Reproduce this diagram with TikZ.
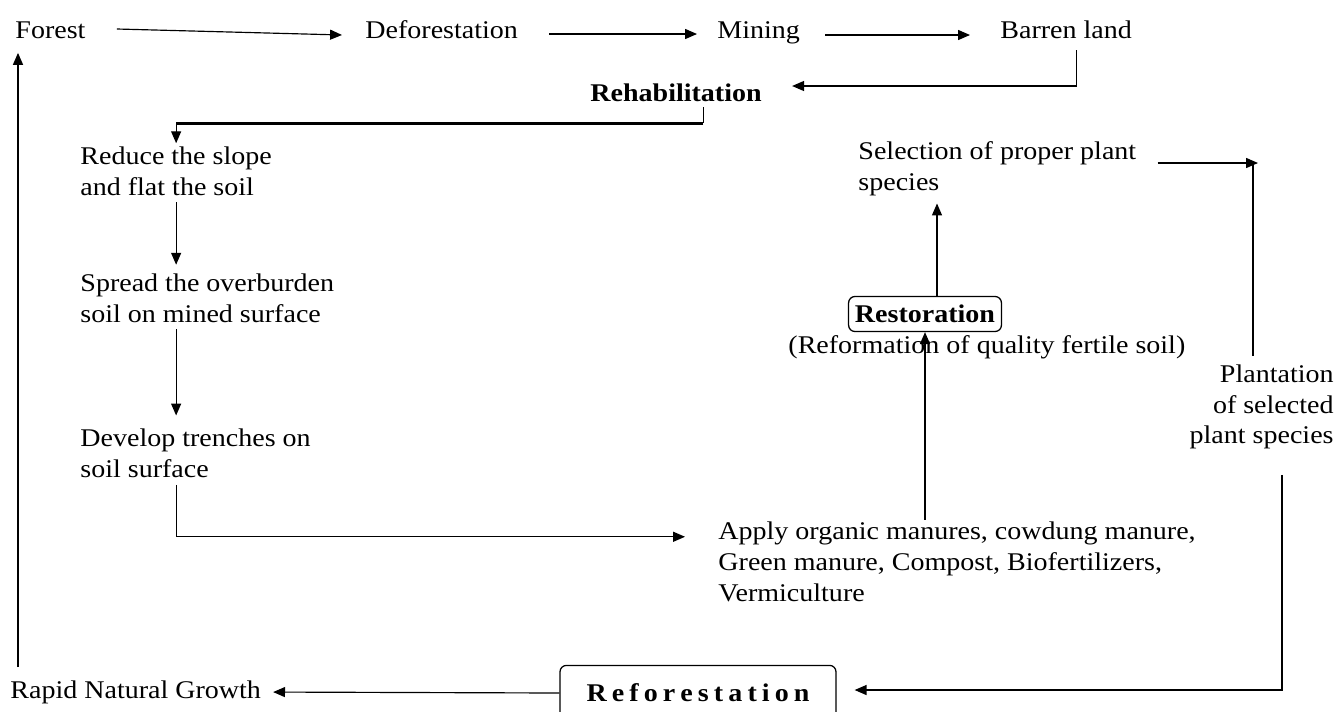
\documentclass[tikz,border=0pt]{standalone}
\usepackage{fontspec}
\setmainfont[FakeStretch=1.1]{Liberation Serif}
\usetikzlibrary{arrows.meta, calc}

\begin{document}
\begin{tikzpicture}[
    x=0.01655cm, y=-0.01655cm,
    >={Triangle[length=5.6pt, width=4.7pt]},
    txt/.style={inner sep=0pt, anchor=west, align=left, font=\fontsize{12}{14.5}\selectfont},
    tag/.style={rectangle, rounded corners=3pt, draw=black, line width=0.6pt, inner sep=0pt, font=\fontsize{12}{14.5}\selectfont\bfseries},
    arrow/.style={->, line width=0.55pt},
    plain/.style={line width=0.55pt}
]
\useasboundingbox (0,0) rectangle (1340,711);

% Top row
\node[txt] (forest) at (15,30) {Forest};
\node[txt] (defor) at (365,30) {Deforestation};
\node[txt] (mining) at (717,33) {Mining};
\node[txt] (barren) at (1000,30) {Barren land};
\node[txt, font=\fontsize{12}{14.5}\selectfont\bfseries] (rehab) at (590,93) {Rehabilitation};

% Left column
\node[txt] (reduce) at (80,171) {Reduce the slope\\and flat the soil};
\node[txt] (spread) at (80,298) {Spread the overburden\\soil on mined surface};
\node[txt] (trench) at (80,453) {Develop trenches on\\soil surface};

% Right part
\node[txt] (manure) at (718,562) {Apply organic manures, cowdung manure,\\Green manure, Compost, Biofertilizers,\\Vermiculture};
\node[tag, minimum width=72pt, minimum height=16.5pt] (resto) at (925,314) {Restoration};
\node[txt] (reform) at (788,347) {(Reformation of quality fertile soil)};
\node[txt] (select) at (858,169) {Selection of proper plant\\species};
\node[txt, anchor=east, align=right] (plant) at (1334,407) {Plantation\\of selected\\plant species};

% Bottom row
\node[tag, minimum width=130pt, minimum height=26pt] (refor) at (698,693) {{\spaceskip=0.2em\relax R e f o r e s t a t i o n}};
\node[txt] (rapid) at (10,692) {Rapid Natural Growth};

% Arrows
\draw[arrow] ($(forest.east)+(31,-1)$) -- ($(defor.west)+(-23,5)$);
\draw[arrow] ($(defor.east)+(31,4)$) -- ($(mining.west)+(-20,1)$);
\draw[arrow] ($(mining.east)+(25,2)$) -- ($(barren.west)+(-30,5)$);
\draw[arrow] ($(barren.south)+(10,11)$) |- ($(rehab.east)+(30,-7)$);

\coordinate (r1) at ($(rehab.south east)+(-59,5)$);
\coordinate (r2) at ($(reduce.north |- r1)+(0,16)$);
\draw[plain] (r1) -- (r1 |- r2);
\draw[line width=1.3pt] (r1 |- r2) -- (r2);
\draw[arrow] (r2) -- ($(reduce.north)+(0,-3)$);

\draw[arrow, shorten <=3pt, shorten >=4pt] (reduce.south) -- (reduce.south |- spread.north);
\draw[arrow, shorten <=3pt, shorten >=6pt] (reduce.south |- spread.south) -- (reduce.south |- trench.north);
\draw[arrow] ($(reduce.south |- trench.south)+(0,7)$) |- ($(manure.north west)+(-33,15)$);

\draw[arrow] ($(resto.south |- manure.north)+(0,-2)$) -- (resto.south);
\coordinate (rs) at ($(resto.north)+(12,0)$);
\draw[arrow] (rs) -- ($(rs |- select.south)+(0,7)$);

\coordinate (sc) at ($(plant.east |- select.east)+(-76,-6)$);
\draw[arrow] ($(select.east)+(21,-6)$) -- (sc);
\draw[plain] ($(sc)+(-5,0)$) -- ($(sc |- plant.north)+(-5,-8)$);

\draw[arrow] ($(plant.south east)+(-52,25)$) |- ($(refor.east)+(18,-3)$);
\draw[arrow, shorten >=5.5pt] (refor.west) -- (rapid.east);

\coordinate (rg) at ($(rapid.north west)+(8,-13)$);
\draw[arrow] (rg) -- ($(rg |- forest.south)+(0,14)$);

\end{tikzpicture}
\end{document}
